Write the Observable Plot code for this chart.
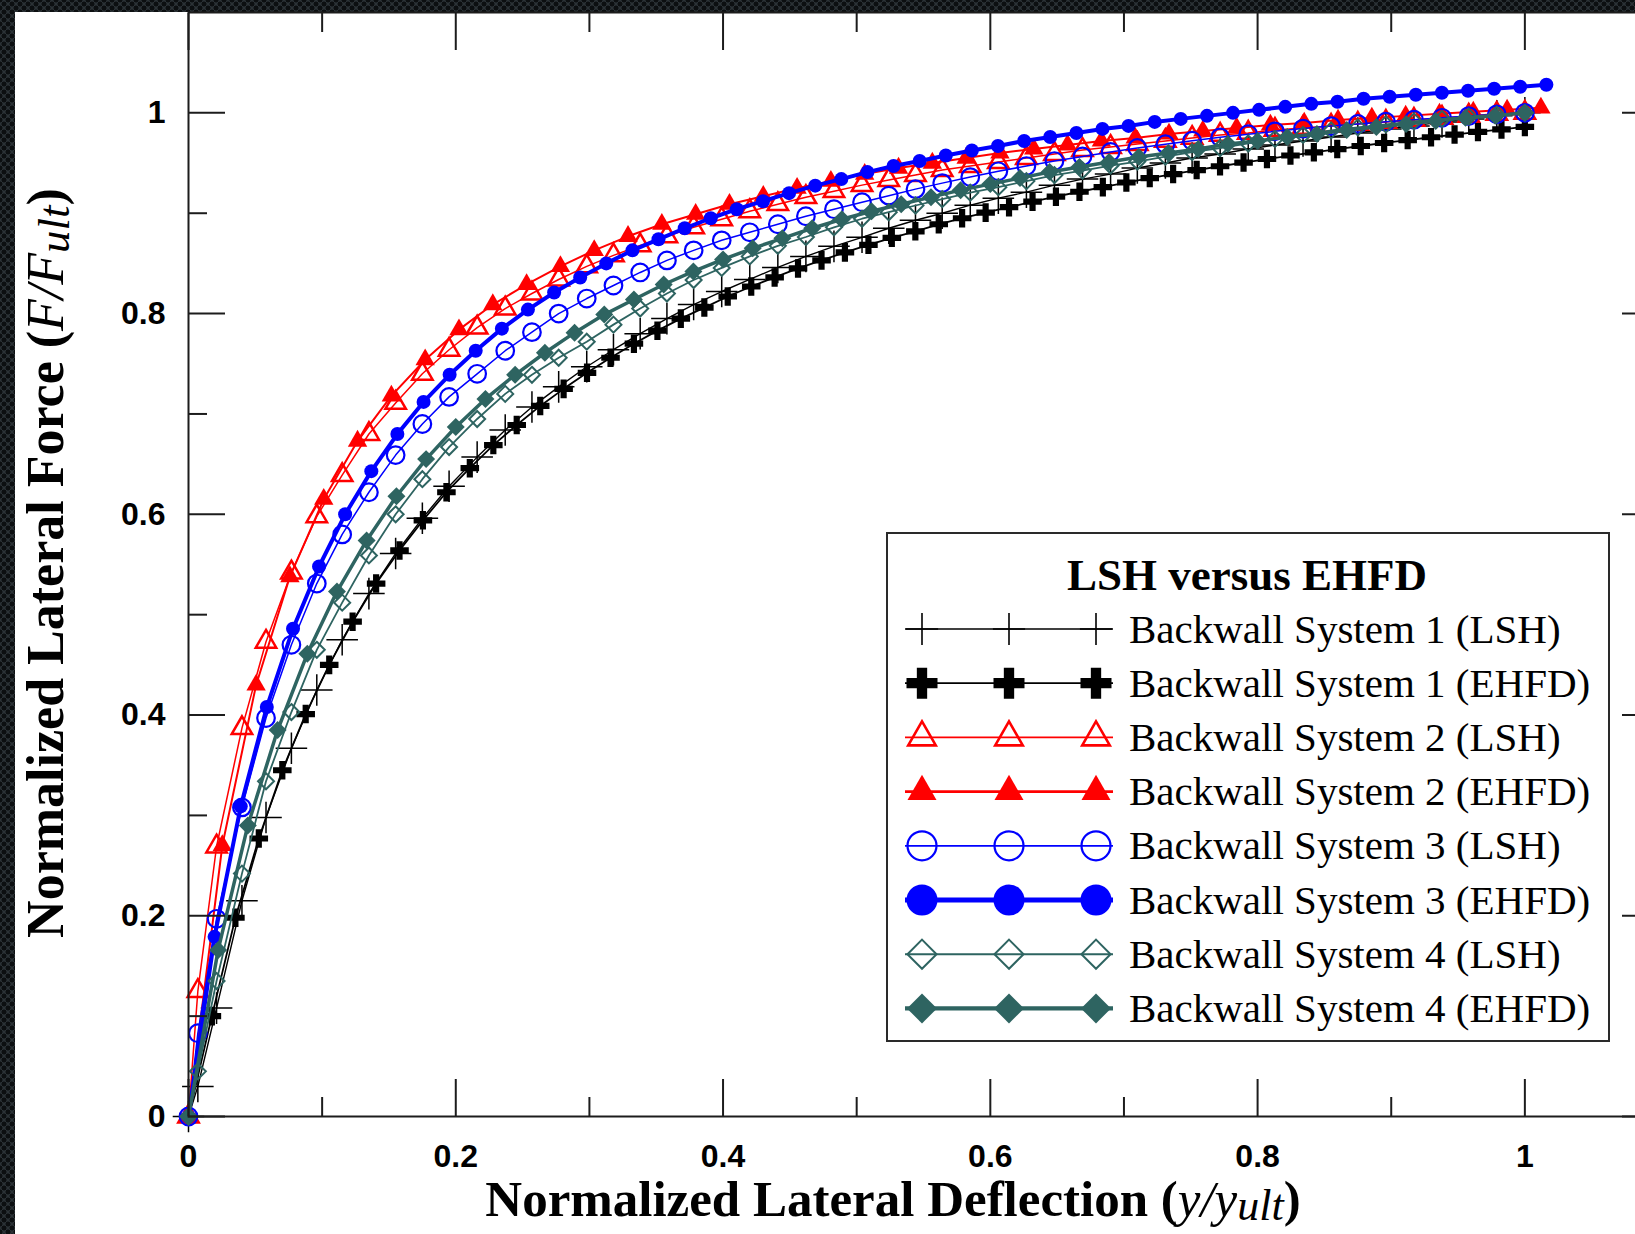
<!DOCTYPE html>
<html>
<head>
<meta charset="utf-8">
<script src="https://cdn.jsdelivr.net/npm/d3@7"></script>
<script src="https://cdn.jsdelivr.net/npm/@observablehq/plot@0.6"></script>
<style>
  html, body { margin: 0; padding: 0; }
  body {
    width: 1635px; height: 1234px; overflow: hidden; position: relative;
    background-color: #2b3236;
    background-image:
      radial-gradient(circle, #0c0f11 0 2.2px, transparent 2.8px),
      radial-gradient(circle, #0c0f11 0 2.2px, transparent 2.8px);
    background-size: 8px 8px;
    background-position: 0 0, 4px 4px;
  }
  #sheet { position: absolute; left: 15px; top: 12px; right: 0; bottom: 0; background: #fff; }
  #chart { position: absolute; left: 0; top: 0; }
  #overlay { position: absolute; left: 0; top: 0; pointer-events: none; }
</style>
</head>
<body>
<div id="sheet"></div>
<div id="chart"></div>
<svg id="overlay" width="1635" height="1234"></svg>
<script>
// ---- Axis ticks and labels ----
const xMajor = [0, 0.2, 0.4, 0.6, 0.8, 1];
const xMinor = [0.1, 0.3, 0.5, 0.7, 0.9];
const yMajor = [0, 0.2, 0.4, 0.6, 0.8, 1];
const yMinor = [0.1, 0.3, 0.5, 0.7, 0.9];
const tickLabels = ["0", "0.2", "0.4", "0.6", "0.8", "1"];

// ---- LSH curves share one set of deflection steps ----
const lshX = [0, 0.007, 0.021, 0.04, 0.058, 0.077, 0.096, 0.115, 0.135, 0.155, 0.175, 0.195, 0.216, 0.237, 0.257, 0.277, 0.298, 0.318, 0.338, 0.358, 0.378, 0.399, 0.42, 0.441, 0.462, 0.483, 0.504, 0.524, 0.544, 0.564, 0.585, 0.606, 0.627, 0.648, 0.669, 0.69, 0.71, 0.731, 0.751, 0.772, 0.793, 0.813, 0.834, 0.855, 0.875, 0.896, 0.917, 0.938, 0.958, 0.979, 1.0];
const sys1LshY = [0, 0.03, 0.108, 0.215, 0.298, 0.367, 0.425, 0.475, 0.521, 0.561, 0.596, 0.628, 0.657, 0.684, 0.707, 0.727, 0.747, 0.764, 0.78, 0.795, 0.809, 0.822, 0.834, 0.846, 0.857, 0.867, 0.876, 0.885, 0.893, 0.9, 0.908, 0.915, 0.921, 0.928, 0.934, 0.939, 0.945, 0.95, 0.955, 0.959, 0.964, 0.968, 0.972, 0.976, 0.98, 0.984, 0.987, 0.991, 0.994, 0.997, 1.0];
const sys2LshY = [0, 0.125, 0.269, 0.387, 0.473, 0.542, 0.598, 0.639, 0.68, 0.711, 0.74, 0.764, 0.786, 0.805, 0.82, 0.834, 0.847, 0.858, 0.868, 0.877, 0.886, 0.894, 0.902, 0.909, 0.916, 0.922, 0.928, 0.933, 0.938, 0.943, 0.947, 0.951, 0.955, 0.959, 0.963, 0.966, 0.969, 0.972, 0.975, 0.978, 0.98, 0.983, 0.985, 0.987, 0.989, 0.991, 0.993, 0.995, 0.997, 0.999, 1.0];
const sys3LshY = [0, 0.083, 0.197, 0.308, 0.397, 0.47, 0.531, 0.58, 0.622, 0.659, 0.69, 0.717, 0.74, 0.763, 0.7815, 0.8, 0.815, 0.828, 0.841, 0.853, 0.863, 0.873, 0.881, 0.889, 0.897, 0.904, 0.911, 0.9175, 0.924, 0.93, 0.936, 0.9418, 0.947, 0.952, 0.9566, 0.961, 0.965, 0.9688, 0.9722, 0.9756, 0.9787, 0.9816, 0.9843, 0.9868, 0.989, 0.9912, 0.9932, 0.9951, 0.9968, 0.9985, 1.0];
const sys4LshY = [0, 0.045, 0.135, 0.242, 0.334, 0.403, 0.465, 0.512, 0.559, 0.6, 0.635, 0.667, 0.695, 0.72, 0.739, 0.756, 0.772, 0.789, 0.805, 0.82, 0.8335, 0.8455, 0.857, 0.8675, 0.8763, 0.886, 0.8945, 0.901, 0.9077, 0.914, 0.9205, 0.926, 0.932, 0.938, 0.9425, 0.9475, 0.9515, 0.9565, 0.961, 0.965, 0.9695, 0.974, 0.978, 0.9825, 0.9855, 0.9885, 0.9915, 0.994, 0.9962, 0.9982, 1.0];

// ---- EHFD curves, each with its own deflection steps ----
const sys1EhfdX = [0, 0.0175, 0.0351, 0.0526, 0.0702, 0.0877, 0.1053, 0.1228, 0.1404, 0.1579, 0.1754, 0.193, 0.2105, 0.2281, 0.2456, 0.2632, 0.2807, 0.2982, 0.3158, 0.3333, 0.3509, 0.3684, 0.386, 0.4035, 0.4211, 0.4386, 0.4561, 0.4737, 0.4912, 0.5088, 0.5263, 0.5439, 0.5614, 0.5789, 0.5965, 0.614, 0.6316, 0.6491, 0.6667, 0.6842, 0.7018, 0.7193, 0.7368, 0.7544, 0.7719, 0.7895, 0.807, 0.8246, 0.8421, 0.8596, 0.8772, 0.8947, 0.9123, 0.9298, 0.9474, 0.9649, 0.9825, 1.0];
const sys1EhfdY = [0, 0.1, 0.198, 0.277, 0.345, 0.401, 0.45, 0.493, 0.531, 0.564, 0.594, 0.622, 0.646, 0.669, 0.689, 0.708, 0.725, 0.741, 0.756, 0.77, 0.783, 0.795, 0.806, 0.817, 0.827, 0.836, 0.845, 0.853, 0.861, 0.8685, 0.8755, 0.882, 0.889, 0.895, 0.9006, 0.906, 0.9115, 0.9165, 0.9214, 0.926, 0.9306, 0.935, 0.939, 0.943, 0.9468, 0.9505, 0.954, 0.9575, 0.9607, 0.9639, 0.967, 0.97, 0.9729, 0.9757, 0.9784, 0.981, 0.9835, 0.986];
const sys2EhfdX = [0, 0.0253, 0.0506, 0.0759, 0.1012, 0.1265, 0.1518, 0.1771, 0.2024, 0.2277, 0.253, 0.2783, 0.3036, 0.3289, 0.3542, 0.3795, 0.4048, 0.4301, 0.4554, 0.4807, 0.506, 0.5313, 0.5566, 0.5819, 0.6072, 0.6325, 0.6578, 0.6831, 0.7084, 0.7337, 0.759, 0.7843, 0.8096, 0.8349, 0.8602, 0.8855, 0.9108, 0.9361, 0.9614, 0.9867, 1.012];
const sys2EhfdY = [0, 0.27, 0.43, 0.538, 0.615, 0.673, 0.718, 0.754, 0.784, 0.809, 0.829, 0.847, 0.863, 0.877, 0.889, 0.899, 0.909, 0.917, 0.925, 0.932, 0.939, 0.945, 0.95, 0.955, 0.96, 0.964, 0.968, 0.972, 0.975, 0.979, 0.982, 0.985, 0.988, 0.99, 0.993, 0.995, 0.997, 0.999, 1.001, 1.003, 1.005];
const sys3EhfdX = [0, 0.0195, 0.0391, 0.0586, 0.0782, 0.0977, 0.1172, 0.1368, 0.1563, 0.1759, 0.1954, 0.2149, 0.2345, 0.254, 0.2736, 0.2931, 0.3126, 0.3322, 0.3517, 0.3713, 0.3908, 0.4103, 0.4299, 0.4494, 0.469, 0.4885, 0.508, 0.5276, 0.5471, 0.5667, 0.5862, 0.6057, 0.6253, 0.6448, 0.6644, 0.6839, 0.7034, 0.723, 0.7425, 0.7621, 0.7816, 0.8011, 0.8207, 0.8402, 0.8598, 0.8793, 0.8988, 0.9184, 0.9379, 0.9575, 0.977, 0.9965, 1.0161];
const sys3EhfdY = [0, 0.179, 0.309, 0.408, 0.486, 0.548, 0.6, 0.643, 0.68, 0.712, 0.739, 0.763, 0.785, 0.804, 0.821, 0.836, 0.85, 0.863, 0.874, 0.885, 0.895, 0.904, 0.912, 0.92, 0.9275, 0.934, 0.941, 0.947, 0.952, 0.9575, 0.9625, 0.967, 0.972, 0.976, 0.98, 0.984, 0.987, 0.991, 0.994, 0.997, 1.0, 1.003, 1.006, 1.009, 1.011, 1.014, 1.016, 1.018, 1.02, 1.022, 1.024, 1.026, 1.028];
const sys4EhfdX = [0, 0.0222, 0.0444, 0.0667, 0.0889, 0.1111, 0.1333, 0.1556, 0.1778, 0.2, 0.2222, 0.2444, 0.2667, 0.2889, 0.3111, 0.3333, 0.3556, 0.3778, 0.4, 0.4222, 0.4444, 0.4667, 0.4889, 0.5111, 0.5333, 0.5556, 0.5778, 0.6, 0.6222, 0.6444, 0.6667, 0.6889, 0.7111, 0.7333, 0.7556, 0.7778, 0.8, 0.8222, 0.8444, 0.8667, 0.8889, 0.9111, 0.9333, 0.9556, 0.9778, 1.0];
const sys4EhfdY = [0, 0.166, 0.29, 0.385, 0.461, 0.523, 0.574, 0.618, 0.655, 0.687, 0.715, 0.739, 0.761, 0.781, 0.799, 0.814, 0.829, 0.842, 0.854, 0.865, 0.875, 0.885, 0.894, 0.902, 0.909, 0.916, 0.923, 0.929, 0.935, 0.941, 0.946, 0.951, 0.956, 0.96, 0.964, 0.969, 0.972, 0.976, 0.979, 0.983, 0.986, 0.989, 0.992, 0.995, 0.997, 1.0];

const seriesNames = [
  "Backwall System 1 (LSH)", "Backwall System 1 (EHFD)",
  "Backwall System 2 (LSH)", "Backwall System 2 (EHFD)",
  "Backwall System 3 (LSH)", "Backwall System 3 (EHFD)",
  "Backwall System 4 (LSH)", "Backwall System 4 (EHFD)"
];

const RED = "#ff0000", BLUE = "#0000ff", TEAL = "#2e6461", BLACK = "#000000";

// Drawing style per series (plot marker radius r, legend symbol area size)
const styles = [
  {xs: lshX,      ys: sys1LshY,  color: BLACK, line: 1.4, symbol: "plus",     d3sym: d3.symbolPlus,     filled: false, r: 10.2, mark: 1.5, legSize: 340,  legLine: 1.6, legMark: 1.6},
  {xs: sys1EhfdX, ys: sys1EhfdY, color: BLACK, line: 1.8, symbol: "cross",    d3sym: d3.symbolCross,    filled: true,  r: 7.8, mark: 0,   legSize: 534,  legLine: 1.8, legMark: 0},
  {xs: lshX,      ys: sys2LshY,  color: RED,   line: 1.5, symbol: "triangle", d3sym: d3.symbolTriangle, filled: false, r: 7.6, mark: 2.5, legSize: 330,  legLine: 1.8, legMark: 2.6},
  {xs: sys2EhfdX, ys: sys2EhfdY, color: RED,   line: 2,   symbol: "triangle", d3sym: d3.symbolTriangle, filled: true,  r: 7.2, mark: 0,   legSize: 364,  legLine: 2.6, legMark: 0},
  {xs: lshX,      ys: sys3LshY,  color: BLUE,  line: 1.5, symbol: "circle",   d3sym: d3.symbolCircle,   filled: false, r: 8.8, mark: 2.2, legSize: 660,  legLine: 1.8, legMark: 2.2},
  {xs: sys3EhfdX, ys: sys3EhfdY, color: BLUE,  line: 4,   symbol: "circle",   d3sym: d3.symbolCircle,   filled: true,  r: 7,   mark: 0,   legSize: 755,  legLine: 5,   legMark: 0},
  {xs: lshX,      ys: sys4LshY,  color: TEAL,  line: 1.8, symbol: "diamond2", d3sym: d3.symbolDiamond2, filled: false, r: 7.2, mark: 2,   legSize: 540,  legLine: 2,   legMark: 2},
  {xs: sys4EhfdX, ys: sys4EhfdY, color: TEAL,  line: 3.5, symbol: "diamond2", d3sym: d3.symbolDiamond2, filled: true,  r: 8.1, mark: 0,   legSize: 574,  legLine: 4.2, legMark: 0}
];

const AXIS = "#1c1c1c";
const tickFont = {fontSize: 32, fontWeight: "bold", fill: "#000", stroke: AXIS, strokeWidth: 2, label: null};

const marks = [];
styles.forEach((s, i) => {
  const rows = s.xs.map((x, j) => ({x, y: s.ys[j], series: seriesNames[i]}));
  marks.push(Plot.line(rows, {x: "x", y: "y", stroke: s.color, strokeWidth: s.line, strokeLinejoin: "round"}));
  marks.push(Plot.dot(rows, {
    x: "x", y: "y", symbol: () => s.symbol, r: s.r,
    fill: s.filled ? s.color : "none",
    stroke: s.filled ? "none" : s.color,
    strokeWidth: s.mark
  }));
});

const plot = Plot.plot({
  width: 1700,
  height: 1234,
  marginLeft: 188,
  marginRight: 42,
  marginTop: 12,
  marginBottom: 118,
  x: {domain: [0, 1.1], label: null, axis: null},
  y: {domain: [0, 1.1], label: null, axis: null},
  symbol: {type: "identity"},
  style: {background: "transparent", maxWidth: "none", overflow: "visible", fontFamily: "'Liberation Sans', Arial, sans-serif"},
  marks: [
    ...marks,
    // inward ticks on all four sides
    Plot.axisX({anchor: "bottom", ticks: xMajor, tickSize: -37, tickPadding: 65, tickFormat: d => tickLabels[xMajor.indexOf(d)], ...tickFont}),
    Plot.axisX({anchor: "bottom", ticks: xMinor, tickSize: -19, tickFormat: () => "", stroke: AXIS, strokeWidth: 2, label: null}),
    Plot.axisX({anchor: "top", ticks: xMajor, tickSize: -37, tickFormat: () => "", stroke: AXIS, strokeWidth: 2, label: null}),
    Plot.axisX({anchor: "top", ticks: xMinor, tickSize: -19, tickFormat: () => "", stroke: AXIS, strokeWidth: 2, label: null}),
    Plot.axisY({anchor: "left", ticks: yMajor, tickSize: -37, tickPadding: 60, tickFormat: d => tickLabels[yMajor.indexOf(d)], ...tickFont}),
    Plot.axisY({anchor: "left", ticks: yMinor, tickSize: -19, tickFormat: () => "", stroke: AXIS, strokeWidth: 2, label: null}),
    Plot.axisY({anchor: "right", ticks: yMajor, tickSize: -37, tickFormat: () => "", stroke: AXIS, strokeWidth: 2, label: null}),
    Plot.axisY({anchor: "right", ticks: yMinor, tickSize: -19, tickFormat: () => "", stroke: AXIS, strokeWidth: 2, label: null}),
    Plot.frame({stroke: AXIS, strokeWidth: 2})
  ]
});
document.getElementById("chart").append(plot);

// ---- Axis titles and legend ----
const over = d3.select("#overlay");
const SERIF = "'Liberation Serif', 'Times New Roman', serif";

const xt = over.append("text")
  .attr("x", 893).attr("y", 1216)
  .attr("text-anchor", "middle")
  .attr("font-family", SERIF).attr("font-weight", "bold").attr("font-size", 51)
  .attr("fill", "#000");
xt.append("tspan").text("Normalized Lateral Deflection (");
xt.append("tspan").attr("font-style", "italic").attr("font-weight", "normal").text("y/y");
xt.append("tspan").attr("font-style", "italic").attr("font-weight", "normal").attr("font-size", 44).attr("dy", 4).text("ult");
xt.append("tspan").attr("dy", -4).text(")");

const yt = over.append("text")
  .attr("transform", "translate(63,563) rotate(-90)")
  .attr("text-anchor", "middle")
  .attr("font-family", SERIF).attr("font-weight", "bold").attr("font-size", 52)
  .attr("fill", "#000");
yt.append("tspan").text("Normalized Lateral Force (");
yt.append("tspan").attr("font-style", "italic").attr("font-weight", "normal").text("F/F");
yt.append("tspan").attr("font-style", "italic").attr("font-weight", "normal").attr("font-size", 45).attr("dy", 6).text("ult");
yt.append("tspan").attr("dy", -6).text(")");

const leg = over.append("g");
leg.append("rect")
  .attr("x", 887).attr("y", 533).attr("width", 722).attr("height", 508)
  .attr("fill", "#fff").attr("stroke", "#2a2a2a").attr("stroke-width", 2);
leg.append("text")
  .attr("x", 1247).attr("y", 590).attr("text-anchor", "middle")
  .attr("font-family", SERIF).attr("font-weight", "bold").attr("font-size", 45)
  .text("LSH versus EHFD");

const symX = [922, 1009, 1096];
styles.forEach((s, i) => {
  const cy = 629 + i * 54.2;
  leg.append("line")
    .attr("x1", 905).attr("x2", 1113).attr("y1", cy).attr("y2", cy)
    .attr("stroke", s.color).attr("stroke-width", s.legLine);
  const path = d3.symbol().type(s.d3sym).size(s.legSize)();
  symX.forEach(sx => {
    leg.append("path")
      .attr("d", path)
      .attr("transform", `translate(${sx},${cy})`)
      .attr("fill", s.filled ? s.color : "none")
      .attr("stroke", s.filled ? "none" : s.color)
      .attr("stroke-width", s.legMark);
  });
  leg.append("text")
    .attr("x", 1129).attr("y", cy + 13.5)
    .attr("font-family", SERIF).attr("font-size", 41)
    .text(seriesNames[i]);
});
</script>
</body>
</html>
